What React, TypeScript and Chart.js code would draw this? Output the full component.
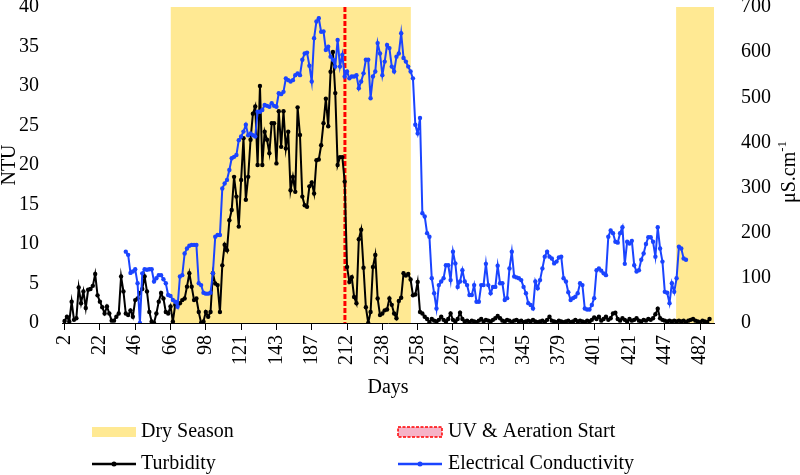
import React, { useEffect, useRef } from 'react';
import { Chart, registerables } from 'chart.js';

Chart.register(...registerables);

// ---- data ----
const dayTicks = ['2', '22', '46', '66', '98', '121', '143', '187', '212', '238', '258', '287', '312', '345', '379', '401', '421', '447', '482'];
const samplesPerTick = 15;

const turbidity = [
  0.25, 0.8, 0.2, 2.7, 0.4, 0.6, 4.5, 2.5, 4.0, 1.9,
  4.2, 4.3, 4.7, 6.2, 3.5, 2.7, 2.0, 1.2, 2.1, 1.2,
  0.3, 0.3, 0.8, 1.2, 5.9, 4.0, 1.2, 1.0, 1.6, 0.8,
  2.9, 3.1, 3.8, 4.3, 5.9, 4.0, 1.4, 0.2, 0.0, 1.2,
  2.7, 3.8, 3.1, 1.4, 1.2, 2.1, 0.2, 2.3, 2.3, 2.5,
  2.9, 3.1, 4.6, 6.3, 4.6, 2.9, 3.1, 1.4, 0.0, 0.2,
  1.4, 0.8, 1.4, 6.3, 5.0, 4.8, 1.4, 7.3, 9.9, 9.2,
  13.0, 14.3, 18.5, 16.0, 12.2, 18.1,
  23.4, 15.6, 18.5, 23.2, 26.5, 27.4, 20.0, 30.0, 20.0, 24.2,
  23.2, 21.5, 25.3, 25.3, 20.2, 26.8, 22.3, 26.8, 22.1, 24.2,
  16.8, 18.5, 16.6, 27.3, 23.8, 16.0, 14.9, 14.7, 17.3, 17.8,
  16.4, 20.6, 20.7, 22.5, 25.3, 28.4, 24.9, 31.8, 34.3, 29.1,
  20.0, 21.0, 21.0, 17.9,
  7.1, 5.2, 5.8, 3.3, 2.5, 10.6, 11.8, 7.0, 2.0, 0.0,
  1.4, 7.1, 8.6, 3.1, 1.0, 1.2, 1.6, 1.7, 3.1, 2.3,
  1.2, 0.6, 2.8, 3.2, 6.3, 6.0, 6.2, 5.5, 3.5, 3.6,
  5.2,
  1.4, 1.2, 0.8, 0.5, 0.1, 0.5, 0.3, 0.2, 0.4, 0.8,
  0.4, 0.2, 0.5, 1.2, 0.4, 0.2, 0.5, 1.3, 0.5, 0.2,
  0.3, 0.1, 0.3, 0.2, 0.1, 0.3, 0.5, 0.2, 0.4, 0.3,
  0.2, 0.4, 0.6, 0.9, 0.6, 0.3, 0.2, 0.4, 0.3, 0.1,
  0.3, 0.4, 0.2, 0.3, 0.1, 0.2, 0.3, 0.2, 0.4, 0.2,
  0.1, 0.2, 0.3, 0.1, 0.4, 0.8, 0.3, 0.2, 0.1, 0.3,
  0.2, 0.1, 0.2, 0.3, 0.1, 0.2, 0.4, 0.2, 0.3, 0.2,
  0.1, 0.3, 0.2, 0.4, 0.7, 0.5, 0.8, 0.3, 0.5, 0.8,
  0.4, 0.6, 1.2, 1.3, 0.5, 0.3, 0.6, 0.4, 0.2, 0.5,
  0.3, 0.4, 0.6, 0.3, 0.2, 0.4, 0.3, 0.5, 0.4, 0.6,
  1.1, 1.8, 0.6, 0.4, 0.3, 0.2, 0.3, 0.2, 0.3, 0.2,
  0.3, 0.2, 0.3, 0.1, 0.3, 0.4, 0.5, 0.3, 0.2, 0.1,
  0.3, 0.2, 0.1, 0.5,
];

const conductivityFirstSample = 26;
const conductivity = [
  158, 151, 111, 114, 119, 88, 0, 110, 119, 118,
  119, 119, 92, 99, 106, 106, 97, 88, 62, 60,
  51, 47, 36, 103, 106, 154, 165, 171, 173, 173,
  173, 88, 84, 67, 65, 65, 67, 110, 191, 195,
  195, 298, 309, 317, 339, 365, 368, 372, 405, 413,
  424, 439, 416, 420, 416, 413, 468, 468, 472, 483,
  481, 479, 487, 481, 479, 509, 507, 512, 542, 538,
  535, 538, 549, 553, 549, 583, 597, 599, 570, 535,
  631, 668, 675, 645, 646, 605, 612, 590, 583, 568,
  627, 568, 594, 546, 557, 542, 546, 546, 549, 520,
  535, 553, 583, 583, 498, 546, 557, 620, 597, 549,
  579, 616, 609, 568, 557, 590, 597, 642, 587, 579,
  568, 557, 542, 439, 420, 454, 243, 236, 199, 191,
  99, 66, 32, 84, 92, 99,
  128, 128, 95, 158, 132, 80, 92, 117, 92, 84,
  62, 62, 84, 47, 47, 84, 84, 131, 84, 66,
  80, 80, 127, 88, 88, 51, 55, 121, 158, 103,
  101, 99, 95, 80, 66, 44, 40, 32, 92, 77,
  95, 121, 147, 158, 147, 143, 132, 136, 145, 147,
  99, 92, 68, 51, 55, 58, 66, 88, 84, 32,
  30, 30, 40, 55, 117, 121, 116, 110, 106, 191,
  205, 199, 180, 178, 199, 212, 131, 180, 176, 182,
  128, 114, 117, 140, 154, 175, 190, 190, 180, 147,
  212, 165, 136, 69, 67, 44, 88, 69, 99, 169,
  165, 143, 140,
];

// dry season periods and treatment start, in sample positions
const drySeasonStart = [45.1, 259.8];
const drySeasonEnd = [147.1, 276];
const uvAerationStart = 119.1;

// ---- style ----
const FONT = '"Liberation Serif", "Times New Roman", serif';
const DRY = '#ffe993';
const BLUE = '#1a44ff';
const BLACK = '#000000';
const RED = '#ff0000';
const PINK = '#f6b3c7';

const overlayPlugin = {
  id: 'overlay',
  beforeDatasetsDraw(chart: any) {
    const { ctx, chartArea, scales } = chart;
    const x = scales.x;
    ctx.save();
    ctx.fillStyle = DRY;
    for (let k = 0; k < drySeasonStart.length; k++) {
      const x0 = x.getPixelForValue(drySeasonStart[k]);
      const x1 = Math.min(x.getPixelForValue(drySeasonEnd[k]), chartArea.right);
      ctx.fillRect(x0, chartArea.top, x1 - x0, chartArea.bottom - chartArea.top);
    }
    const ux = x.getPixelForValue(uvAerationStart);
    ctx.strokeStyle = RED;
    ctx.lineWidth = 3;
    ctx.setLineDash([5, 2]);
    ctx.beginPath();
    ctx.moveTo(ux, chartArea.top);
    ctx.lineTo(ux, chartArea.bottom);
    ctx.stroke();
    ctx.restore();
  },
  afterDraw(chart: any) {
    const { ctx, chartArea } = chart;
    ctx.save();
    ctx.fillStyle = BLACK;
    ctx.font = `20px ${FONT}`;
    ctx.textBaseline = 'middle';
    // x title
    ctx.textAlign = 'center';
    ctx.fillText('Days', (chartArea.left + chartArea.right) / 2, 388);
    // left title
    ctx.save();
    ctx.translate(10, (chartArea.top + chartArea.bottom) / 2);
    ctx.rotate(-Math.PI / 2);
    ctx.fillText('NTU', 0, 0);
    ctx.restore();
    // right title with superscript
    ctx.save();
    ctx.translate(790, 172);
    ctx.rotate(-Math.PI / 2);
    const main = 'μS.cm';
    const sup = '-1';
    ctx.font = `20px ${FONT}`;
    const w1 = ctx.measureText(main).width;
    ctx.font = `13px ${FONT}`;
    const w2 = ctx.measureText(sup).width;
    const start = -(w1 + w2) / 2;
    ctx.textAlign = 'left';
    ctx.font = `20px ${FONT}`;
    ctx.fillText(main, start, 0);
    ctx.font = `13px ${FONT}`;
    ctx.fillText(sup, start + w1, -7);
    ctx.restore();

    // legend
    ctx.textAlign = 'left';
    ctx.font = `20px ${FONT}`;
    const row1 = 432;
    const row2 = 464;
    const c1 = 92;
    const c2 = 398;
    const sw = 44;
    // Dry season
    ctx.fillStyle = DRY;
    ctx.fillRect(c1, row1 - 5, sw, 10);
    ctx.fillStyle = BLACK;
    ctx.fillText('Dry Season', c1 + sw + 5, row1);
    // UV
    ctx.fillStyle = PINK;
    ctx.fillRect(c2, row1 - 5, sw, 10);
    ctx.strokeStyle = RED;
    ctx.lineWidth = 1.5;
    ctx.setLineDash([3, 1.5]);
    ctx.strokeRect(c2, row1 - 5, sw, 10);
    ctx.setLineDash([]);
    ctx.fillStyle = BLACK;
    ctx.fillText('UV & Aeration Start', c2 + sw + 6, row1);
    // Turbidity
    const series = [
      { x: c1, color: BLACK, label: 'Turbidity', tx: c1 + sw + 5 },
      { x: c2, color: BLUE, label: 'Electrical Conductivity', tx: c2 + sw + 6 },
    ];
    for (const s of series) {
      ctx.strokeStyle = s.color;
      ctx.lineWidth = 2.5;
      ctx.beginPath();
      ctx.moveTo(s.x, row2);
      ctx.lineTo(s.x + sw, row2);
      ctx.stroke();
      ctx.fillStyle = s.color;
      ctx.beginPath();
      ctx.arc(s.x + sw / 2, row2, 2.5, 0, Math.PI * 2);
      ctx.fill();
      ctx.fillStyle = BLACK;
      ctx.fillText(s.label, s.tx, row2);
    }
    ctx.restore();
  },
};

const zeroPad = (scale: any) => {
  scale.paddingTop = 0;
  scale.paddingBottom = 0;
  scale.paddingLeft = 0;
  scale.paddingRight = 0;
};

export default function App() {
  const ref = useRef<HTMLCanvasElement | null>(null);

  useEffect(() => {
    if (!ref.current) return;
    const turbData = turbidity.map((v, i) => ({ x: i, y: v }));
    const ecData = conductivity.map((v, i) => ({ x: conductivityFirstSample + i, y: v }));
    const tickFont = { family: FONT, size: 20 };

    const chart = new Chart(ref.current, {
      type: 'line',
      data: {
        datasets: [
          {
            label: 'Electrical Conductivity',
            data: ecData,
            yAxisID: 'y1',
            borderColor: BLUE,
            backgroundColor: BLUE,
            borderWidth: 2,
            pointRadius: 2.2,
            pointBorderWidth: 0,
            pointBackgroundColor: BLUE,
            tension: 0,
            order: 0,
          },
          {
            label: 'Turbidity',
            data: turbData,
            yAxisID: 'y',
            borderColor: BLACK,
            backgroundColor: BLACK,
            borderWidth: 2,
            pointRadius: 2.2,
            pointBorderWidth: 0,
            pointBackgroundColor: BLACK,
            tension: 0,
            order: 1,
          },
        ],
      },
      options: {
        animation: false,
        responsive: false,
        maintainAspectRatio: false,
        layout: { padding: { top: 7, bottom: 82, left: 0, right: 0 } },
        plugins: {
          legend: { display: false },
          tooltip: { enabled: false },
        },
        scales: {
          x: {
            type: 'linear',
            min: -1.1,
            max: 275.9,
            afterBuildTicks: (scale: any) => {
              scale.ticks = dayTicks.map((_, k) => ({ value: k * samplesPerTick }));
            },
            afterFit: (scale: any) => {
              scale.height = 70;
              zeroPad(scale);
            },
            grid: {
              display: true,
              drawOnChartArea: false,
              drawTicks: true,
              tickLength: 7,
              color: BLACK,
              lineWidth: 1,
            },
            border: { display: true, color: BLACK, width: 1, z: 1 },
            ticks: {
              autoSkip: false,
              minRotation: 90,
              maxRotation: 90,
              padding: 5,
              color: BLACK,
              font: tickFont,
              callback: (value: any) => dayTicks[Math.round(Number(value) / samplesPerTick)] ?? '',
            },
          },
          y: {
            type: 'linear',
            position: 'left',
            min: 0,
            max: 40,
            afterFit: (scale: any) => {
              scale.width = 62;
              zeroPad(scale);
            },
            grid: { display: false },
            border: { display: false },
            ticks: { stepSize: 5, padding: 15, color: BLACK, font: tickFont },
          },
          y1: {
            type: 'linear',
            position: 'right',
            min: 0,
            max: 700,
            afterFit: (scale: any) => {
              scale.width = 86;
              zeroPad(scale);
            },
            grid: { display: false },
            border: { display: false },
            ticks: { stepSize: 100, padding: 19, color: BLACK, font: tickFont },
          },
        },
      },
      plugins: [overlayPlugin],
    } as any);

    return () => chart.destroy();
  }, []);

  return (
    <div style={{ position: 'fixed', left: 0, top: 0, width: 800, height: 475, background: '#ffffff' }}>
      <canvas ref={ref} width={800} height={475} style={{ width: 800, height: 475, display: 'block' }} />
    </div>
  );
}
